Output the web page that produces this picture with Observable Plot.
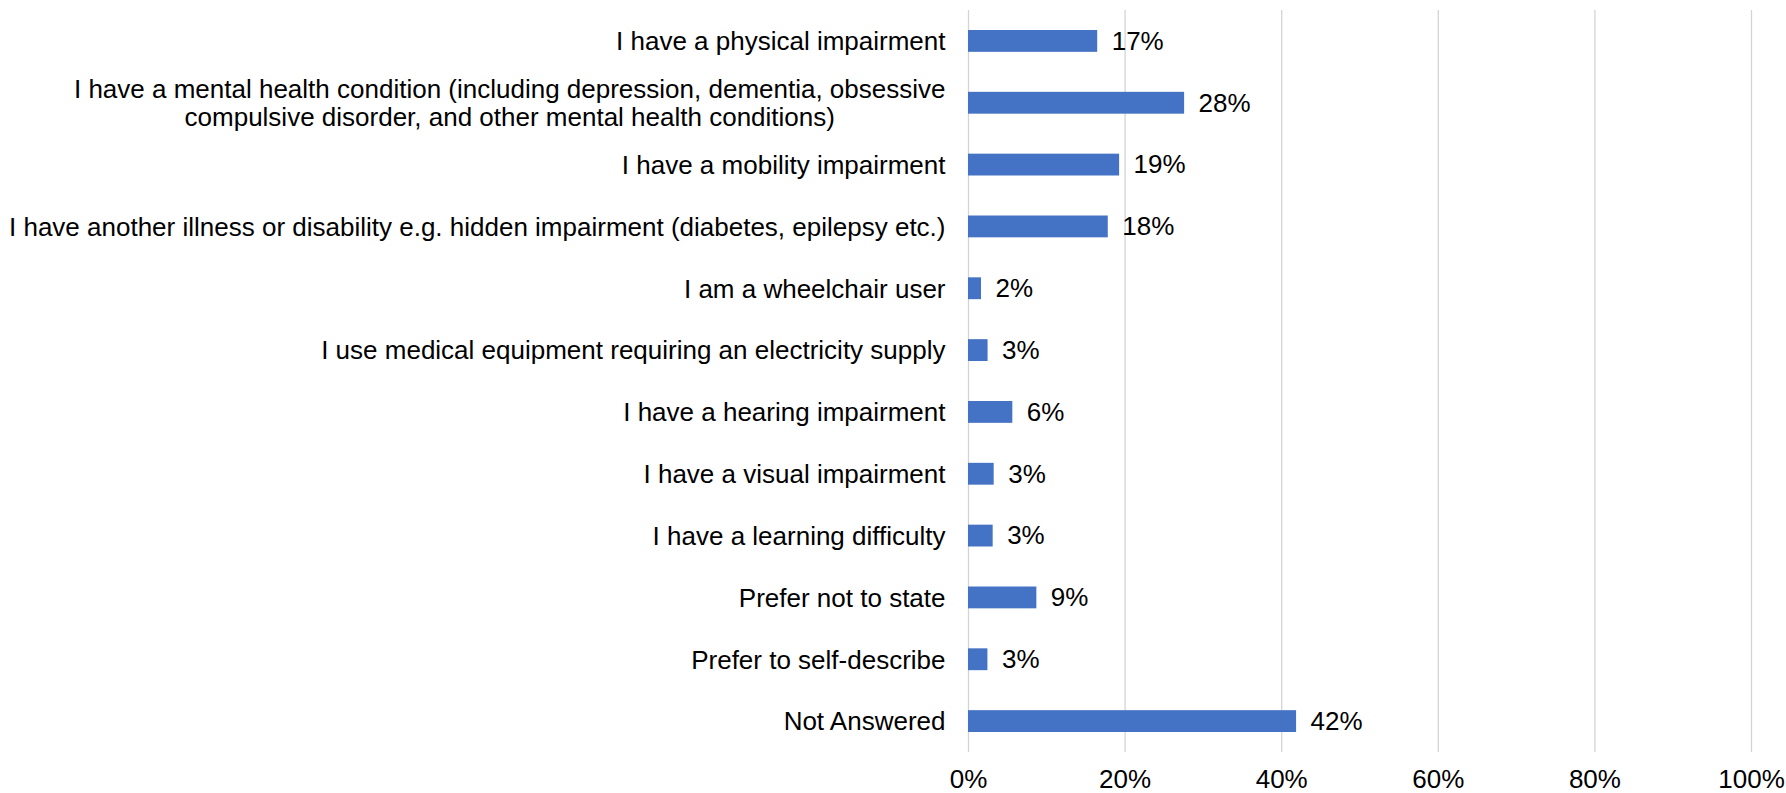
<!DOCTYPE html>
<html>
<head>
<meta charset="utf-8">
<script src="https://cdn.jsdelivr.net/npm/d3@7"></script>
<script src="https://cdn.jsdelivr.net/npm/@observablehq/plot@0.6"></script>
<style>
  html, body { margin: 0; padding: 0; background: #ffffff; }
  #chart svg { display: block; }
</style>
</head>
<body>
<div id="chart"></div>
<script>
const categories = [
  "I have a physical impairment",
  "I have a mental health condition (including depression, dementia, obsessive\ncompulsive disorder, and other mental health conditions)",
  "I have a mobility impairment",
  "I have another illness or disability e.g. hidden impairment (diabetes, epilepsy etc.)",
  "I am a wheelchair user",
  "I use medical equipment requiring an electricity supply",
  "I have a hearing impairment",
  "I have a visual impairment",
  "I have a learning difficulty",
  "Prefer not to state",
  "Prefer to self-describe",
  "Not Answered"
];
const values = [16.5, 27.6, 19.3, 17.85, 1.66, 2.5, 5.66, 3.28, 3.15, 8.73, 2.48, 41.9];
const valueLabels = ["17%", "28%", "19%", "18%", "2%", "3%", "6%", "3%", "3%", "9%", "3%", "42%"];
const xTicks = [0, 20, 40, 60, 80, 100];

const data = categories.map((c, i) => ({cat: c, value: values[i], label: valueLabels[i]}));

const chart = Plot.plot({
  width: 1786,
  height: 793,
  marginLeft: 968,
  marginRight: 35,
  marginTop: 10,
  marginBottom: 41,
  style: {
    fontFamily: "'Liberation Sans', Arial, sans-serif",
    fontSize: "26px",
    color: "#000000",
    background: "#ffffff"
  },
  x: {domain: [0, 100]},
  y: {domain: categories, padding: 0, round: false},
  marks: [
    Plot.gridX(xTicks, {stroke: "#d4d4d4", strokeOpacity: 1, strokeWidth: 1.3}),
    Plot.barX(data, {x: "value", y: "cat", fill: "#4472C4", insetTop: 20, insetBottom: 20}),
    Plot.text(data, {x: "value", y: "cat", text: "label", textAnchor: "start", dx: 14, fill: "#000000", fontSize: 26}),
    Plot.axisX({ticks: xTicks, tickFormat: d => d + "%", tickSize: 0, tickPadding: 17, fontSize: 26, label: null}),
    Plot.axisY({tickSize: 0, tickPadding: 23, fontSize: 26, lineHeight: 1.05, label: null})
  ]
});

document.getElementById("chart").appendChild(chart);

// center multi-line y tick labels (as in the reference)
chart.querySelectorAll("text").forEach(t => {
  const spans = t.querySelectorAll("tspan");
  if (spans.length > 1) {
    let w = 0;
    spans.forEach(s => { w = Math.max(w, s.getComputedTextLength()); });
    t.setAttribute("text-anchor", "middle");
    spans.forEach(s => s.setAttribute("x", -w / 2));
  }
});
</script>
</body>
</html>
